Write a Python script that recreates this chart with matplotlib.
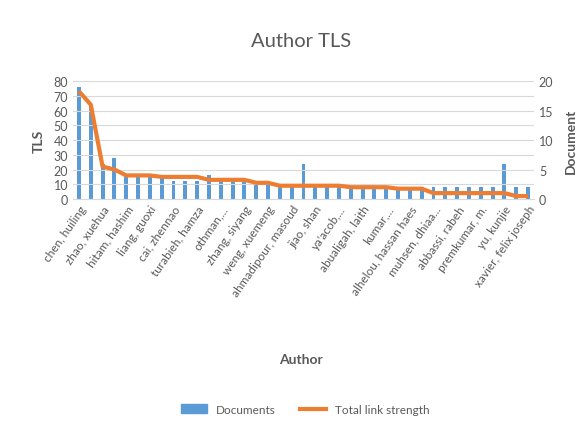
import matplotlib
matplotlib.use("Agg")
import matplotlib.pyplot as plt
import numpy as np
from matplotlib.patches import Patch
from matplotlib.lines import Line2D

authors = [
    "chen, huiling", "", "zhao, xuehua", "", "hitam, hashim", "", "liang, guoxi", "",
    "cai, zhennao", "", "turabieh, hamza", "", "othman,...", "", "zhang, siyang", "",
    "weng, xuemeng", "", "ahmadipour, masoud", "", "jiao, shan", "", "ya'acob,...", "",
    "abualigah, laith", "", "kumar,...", "", "alhelou, hassan haes", "", "muhsen, dhiaa...", "",
    "abbassi, rabeh", "", "premkumar, m.", "", "yu, kunjie", "", "xavier, felix joseph",
]
documents = [19, 16, 6, 7, 4, 4, 4, 4, 3, 3, 3, 4, 3, 3, 3, 3, 3, 2, 2, 6,
             2, 2, 2, 2, 2, 2, 2, 2, 2, 2, 2, 2, 2, 2, 2, 2, 6, 2, 2]
tls = [73, 64, 22, 20, 16, 16, 16, 15, 15, 15, 15, 13, 13, 13, 13, 11, 11, 9, 9, 9,
       9, 9, 9, 8, 8, 8, 8, 7, 7, 7, 4, 4, 4, 4, 4, 4, 4, 2, 2]

BLUE = "#5B9BD5"
ORANGE = "#ED7D31"
GRAY = "#595959"
plt.rcParams['font.family'] = ['Lato', 'DejaVu Sans']

fig = plt.figure(figsize=(5.87, 4.39), dpi=100)
ax = fig.add_axes([0.1244, 0.5444, 0.7853, 0.2688])
ax2 = ax.twinx()

x = np.arange(len(documents))
ax2.bar(x, documents, width=0.33, color=BLUE, zorder=2)
ax2.set_ylim(0, 20)
ax2.set_yticks([0, 5, 10, 15, 20])
ax.set_ylim(0, 80)
ax.set_yticks(range(0, 81, 10))
ax.set_xlim(-0.5, len(documents) - 0.5)

ax.set_zorder(ax2.get_zorder() + 1)
ax.patch.set_visible(False)
ax.plot(x, tls, color=ORANGE, lw=3, zorder=3, solid_capstyle='butt')

ax.grid(axis='y', color='#D9D9D9', lw=0.8)
ax.set_axisbelow(True)
for a in (ax, ax2):
    for s in a.spines.values():
        s.set_visible(False)
    a.tick_params(length=0, colors=GRAY, labelsize=9)
ax.spines['bottom'].set_visible(True)
ax.spines['bottom'].set_color('#D9D9D9')

ax.set_xticks(x)
ax.set_xticklabels(authors, rotation=55, ha='right', rotation_mode='anchor',
                   fontsize=8.5, color=GRAY)
ax.tick_params(axis='x', pad=3)

ax.set_ylabel("TLS", fontsize=10, fontweight='bold', color=GRAY, labelpad=6)
ax2.set_ylabel("Document", fontsize=10, fontweight='bold', color=GRAY, labelpad=8)
fig.text(0.513, 0.18, "Author", ha='center', va='center', fontsize=10,
         fontweight='bold', color=GRAY)
fig.text(0.513, 0.905, "Author TLS", ha='center', va='center', fontsize=14.5, color=GRAY)

handles = [Patch(color=BLUE, label="Documents"),
           Line2D([0], [0], color=ORANGE, lw=3, label="Total link strength")]
fig.legend(handles=handles, loc='center', bbox_to_anchor=(0.52, 0.065), ncol=2,
           frameon=False, fontsize=8.5, labelcolor=GRAY, handlelength=2.2,
           columnspacing=2.0, handleheight=0.8)

fig.savefig("out.png", dpi=100)
